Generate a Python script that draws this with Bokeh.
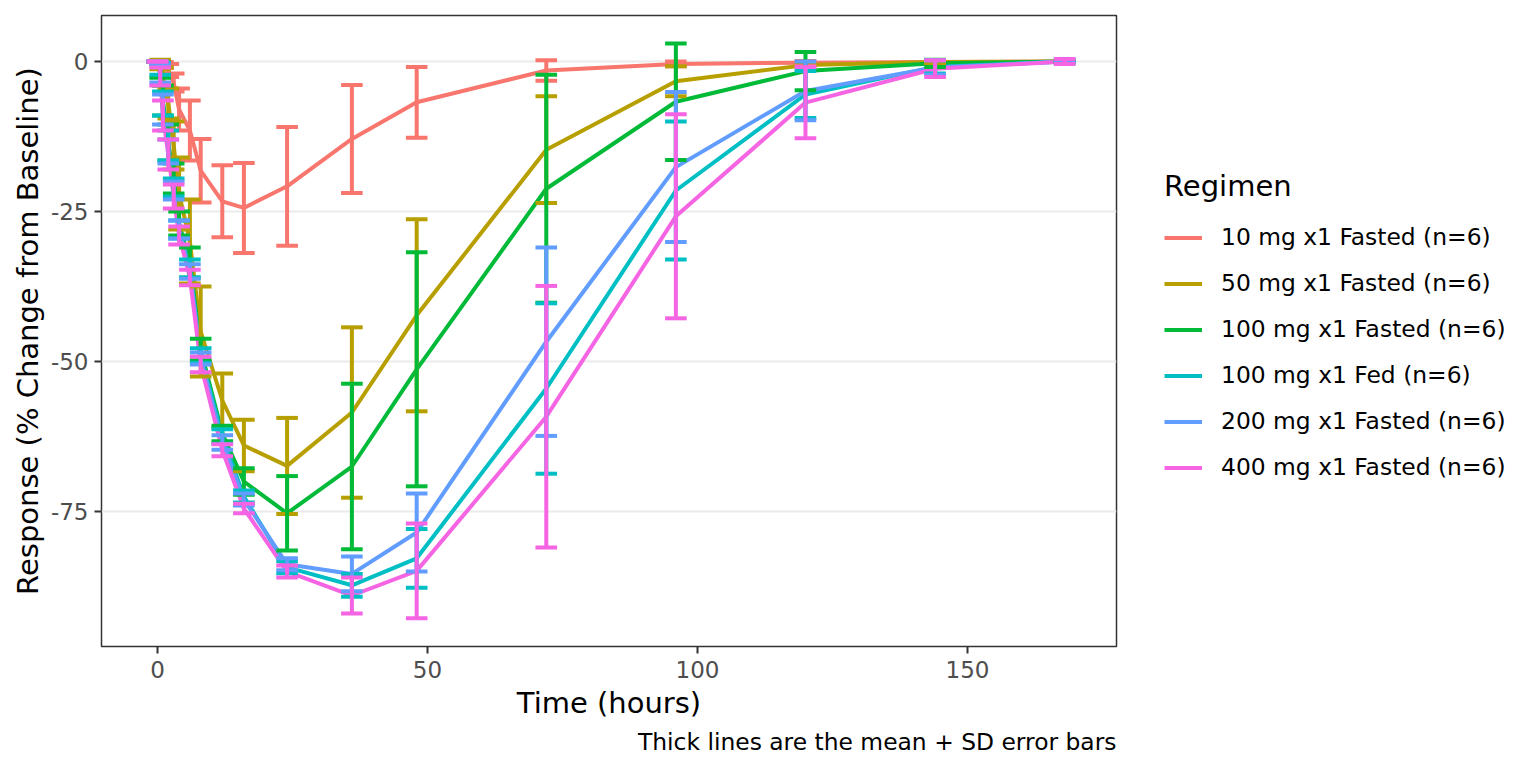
from bokeh.plotting import figure
from bokeh.models import Range1d, FixedTicker, Legend, LegendItem, Title, ColumnDataSource
from bokeh.embed import file_html
from bokeh.resources import INLINE

# ---- data -------------------------------------------------------------
time = [0, 0.5, 1, 2, 3, 4, 6, 8, 12, 16, 24, 36, 48, 72, 96, 120, 144, 168]

regimens = ["10 mg x1 Fasted (n=6)", "50 mg x1 Fasted (n=6)", "100 mg x1 Fasted (n=6)",
            "100 mg x1 Fed (n=6)", "200 mg x1 Fasted (n=6)", "400 mg x1 Fasted (n=6)"]
colors = ["#F8766D", "#B79F00", "#00BA38", "#00BFC4", "#619CFF", "#F564E3"]

mean_10 = [0, -0.2, -0.6, -1.5, -3.5, -8.0, -11.5, -18.2, -23.3, -24.4, -20.8, -12.9, -6.8, -1.5, -0.4, -0.2, -0.1, 0]
sd_10 = [0, 0.3, 0.5, 1.1, 1.5, 3.5, 5.0, 5.3, 6.0, 7.5, 9.9, 9.0, 5.9, 1.7, 0.4, 0.3, 0.1, 0]

mean_50 = [0, -0.5, -2.5, -7.0, -14.0, -22.0, -30.0, -45.0, -56.5, -64.0, -67.4, -58.5, -42.3, -14.7, -3.3, -0.6, -0.1, 0]
sd_50 = [0, 0.8, 1.5, 2.5, 4.0, 6.0, 7.0, 7.5, 4.5, 4.3, 8.0, 14.2, 16.0, 8.9, 2.5, 0.5, 0.2, 0]

mean_100 = [0, -1.5, -6.5, -13.5, -19.5, -27.0, -33.5, -48.0, -62.0, -70.0, -75.3, -67.5, -51.3, -21.2, -6.7, -1.6, -0.3, 0]
sd_100 = [0, 1.2, 2.5, 3.0, 2.5, 2.0, 2.5, 1.8, 1.3, 2.2, 6.2, 13.8, 19.5, 19.0, 9.7, 3.2, 0.6, 0.2]

mean_100fed = [0, -1.2, -7.0, -14.0, -21.0, -28.0, -34.5, -49.0, -62.5, -72.5, -84.3, -87.3, -82.8, -54.5, -21.5, -5.5, -0.9, 0]
sd_100fed = [0, 1.0, 2.0, 2.5, 1.5, 1.5, 1.5, 1.2, 1.2, 1.0, 1.0, 1.9, 4.9, 14.2, 11.5, 3.9, 1.1, 0.2]

mean_200 = [0, -2.0, -8.0, -15.0, -21.5, -28.0, -35.0, -49.5, -63.5, -73.0, -83.8, -85.4, -78.5, -46.7, -17.6, -4.9, -1.0, 0]
sd_200 = [0, 1.5, 2.5, 2.0, 1.5, 1.5, 1.2, 1.0, 1.2, 1.0, 1.0, 2.9, 6.5, 15.7, 12.5, 4.9, 1.2, 0.3]

mean_400 = [0, -2.5, -9.0, -15.5, -22.5, -29.0, -36.0, -50.5, -64.8, -74.5, -85.0, -89.0, -84.9, -59.2, -25.8, -6.85, -1.2, 0]
sd_400 = [0, 1.5, 2.5, 2.5, 2.0, 1.5, 1.3, 1.3, 1.0, 0.8, 1.0, 3.0, 7.9, 21.8, 17.0, 5.95, 1.4, 0.4]

means = [mean_10, mean_50, mean_100, mean_100fed, mean_200, mean_400]
sds = [sd_10, sd_50, sd_100, sd_100fed, sd_200, sd_400]

x_ticks = [0, 50, 100, 150]
y_ticks = [0, -25, -50, -75]

CAP_HALF = 2.0  # error bar cap half-width in hours
FONT = "DejaVu Sans"
LW = 4

# ---- figure -----------------------------------------------------------
p = figure(frame_width=1015, frame_height=631,
           x_range=Range1d(-10.37, 177.6), y_range=Range1d(-97.5, 7.67),
           output_backend="svg", toolbar_location=None,
           min_border_left=101, min_border_top=15, min_border_right=400,
           min_border_bottom=108)
p.background_fill_color = "white"
p.border_fill_color = "white"
p.outline_line_color = "#333333"
p.outline_line_width = 1.5

p.xgrid.visible = False
p.ygrid.grid_line_color = "#EBEBEB"
p.ygrid.grid_line_width = 2
p.xaxis.ticker = FixedTicker(ticks=x_ticks)
p.yaxis.ticker = FixedTicker(ticks=y_ticks)
p.yaxis.major_label_overrides = {v: str(v) for v in y_ticks}
p.xaxis.major_label_overrides = {v: str(v) for v in x_ticks}

for ax in (p.xaxis[0], p.yaxis[0]):
    ax.axis_line_color = None
    ax.major_tick_line_color = "#333333"
    ax.major_tick_line_width = 2
    ax.major_tick_out = 7
    ax.major_tick_in = 0
    ax.minor_tick_line_color = None
    ax.major_label_text_font = FONT
    ax.major_label_text_font_size = "23px"
    ax.major_label_text_color = "#4D4D4D"
    ax.axis_label_text_font = FONT
    ax.axis_label_text_font_size = "29px"
    ax.axis_label_text_font_style = "normal"
    ax.axis_label_text_color = "black"

p.xaxis.axis_label = "Time (hours)"
p.yaxis.axis_label = "Response (% Change from Baseline)"
p.xaxis.major_label_standoff = 7
p.yaxis.major_label_standoff = 6
p.xaxis.axis_label_standoff = 5
p.yaxis.axis_label_standoff = 3

line_renderers = []
sources = []
for name, col, m, s in zip(regimens, colors, means, sds):
    src = ColumnDataSource(dict(
        t=time, m=m,
        lo=[a - b for a, b in zip(m, s)],
        hi=[a + b for a, b in zip(m, s)],
        tl=[t - CAP_HALF for t in time],
        tr=[t + CAP_HALF for t in time],
    ))
    sources.append(src)
    r = p.line("t", "m", source=src, line_color=col, line_width=LW, line_join="round")
    line_renderers.append(r)

for col, src in zip(colors, sources):
    p.segment("t", "lo", "t", "hi", source=src, line_color=col, line_width=LW)
    p.segment("tl", "lo", "tr", "lo", source=src, line_color=col, line_width=LW)
    p.segment("tl", "hi", "tr", "hi", source=src, line_color=col, line_width=LW)

legend = Legend(items=[LegendItem(label=n, renderers=[r]) for n, r in zip(regimens, line_renderers)],
                location=(48, 165), orientation="vertical")
legend.title = "Regimen"
legend.title_text_font = FONT
legend.title_text_font_size = "29px"
legend.title_text_font_style = "normal"
legend.title_text_color = "black"
legend.title_standoff = 20
legend.label_text_font = FONT
legend.label_text_font_size = "23.4px"
legend.label_text_color = "black"
legend.glyph_width = 38
legend.glyph_height = 27
legend.label_height = 27
legend.label_standoff = 19
legend.spacing = 18
legend.padding = 10
legend.margin = 0
legend.border_line_color = None
legend.background_fill_alpha = 0
p.add_layout(legend, "right")

caption = Title(text="Thick lines are the mean + SD error bars", align="right",
                text_font=FONT, text_font_size="23.4px", text_font_style="normal",
                text_color="black", standoff=6)
p.add_layout(caption, "below")

open("out.html", "w").write(file_html(p, INLINE))
